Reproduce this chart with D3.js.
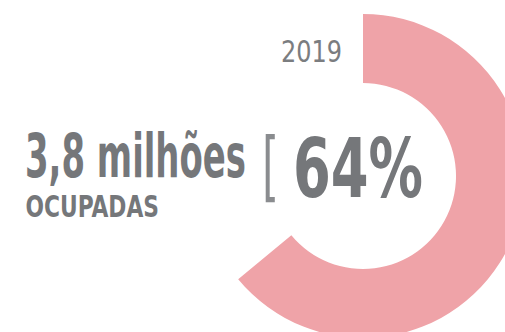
<!DOCTYPE html>
<html>
<head>
<meta charset="utf-8">
<script src="https://cdn.jsdelivr.net/npm/d3@7"></script>
<style>
  html, body { margin: 0; padding: 0; background: #ffffff; }
  svg { display: block; }
  text { font-family: "DejaVu Sans Condensed", "Liberation Sans Narrow", "Liberation Sans", sans-serif; }
</style>
</head>
<body>
<svg id="chart" width="505" height="332"></svg>
<script>
// Share of occupied positions
const years = ["2019"];
const shares = [64];            // percent
const totals = ["3,8 milhões"];
const totalCaption = ["OCUPADAS"];

const W = 505, H = 332;
const svg = d3.select("#chart");

// Ring geometry
const cx = 363, cy = 176;
const innerR = 93, outerR = 162;

const angle = d3.scaleLinear().domain([0, 100]).range([0, 2 * Math.PI]);

const arc = d3.arc()
  .innerRadius(innerR)
  .outerRadius(outerR)
  .startAngle(0)
  .endAngle(d => angle(d));

svg.append("g")
  .attr("transform", `translate(${cx},${cy})`)
  .selectAll("path")
  .data(shares)
  .join("path")
  .attr("d", arc)
  .attr("fill", "#efa3a8");

// Set a label in a tall, condensed shape: the font size is chosen so the
// natural width equals `width`, then the glyphs are stretched vertically
// until the cap height equals `cap`.
const CAP = 0.729;
function tallText(sel, { x, y, width, cap }) {
  sel.each(function () {
    const t = d3.select(this);
    const f0 = cap / CAP;
    t.attr("font-size", f0);
    const natural = this.getComputedTextLength();
    const f = f0 * width / natural;
    t.attr("font-size", f)
     .attr("x", 0).attr("y", 0)
     .attr("transform", `translate(${x},${y}) scale(1,${f0 / f})`);
  });
}

// Year label above the ring's opening
svg.selectAll("text.year")
  .data(years)
  .join("text")
  .attr("class", "year")
  .attr("fill", "#7b7d80")
  .text(d => d)
  .call(tallText, { x: 281, y: 61.7, width: 61, cap: 21.7 });

// Opening bracket before the percentage
svg.append("text")
  .attr("x", 262)
  .attr("y", 191.5)
  .attr("font-size", 76)
  .attr("fill", "#8a8c8f")
  .attr("textLength", 17)
  .attr("lengthAdjust", "spacingAndGlyphs")
  .text("[");

// Percentage in the centre
svg.selectAll("text.pct")
  .data(shares)
  .join("text")
  .attr("class", "pct")
  .attr("font-weight", "bold")
  .attr("fill", "#75777a")
  .text(d => `${d}%`)
  .call(tallText, { x: 293, y: 196.7, width: 130, cap: 60 });

// Absolute total on the left
svg.selectAll("text.total")
  .data(totals)
  .join("text")
  .attr("class", "total")
  .attr("font-weight", "bold")
  .attr("fill", "#75777a")
  .text(d => d)
  .call(tallText, { x: 25, y: 176.7, width: 221, cap: 44 });

svg.selectAll("text.caption")
  .data(totalCaption)
  .join("text")
  .attr("class", "caption")
  .attr("font-weight", "bold")
  .attr("fill", "#75777a")
  .text(d => d)
  .call(tallText, { x: 25.5, y: 216.7, width: 133.5, cap: 21.7 });
</script>
</body>
</html>
